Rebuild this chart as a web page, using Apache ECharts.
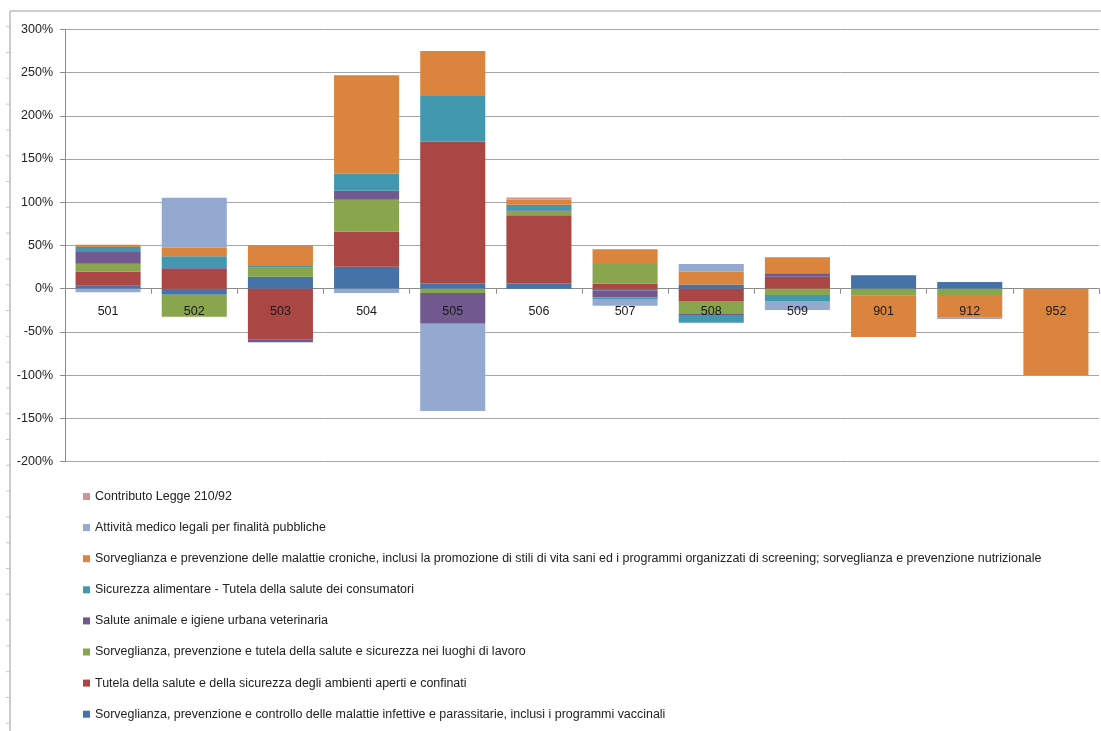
<!DOCTYPE html>
<html>
<head>
<meta charset="utf-8">
<script src="https://cdn.jsdelivr.net/npm/echarts@6/dist/echarts.min.js"></script>
<style>
html,body{margin:0;padding:0;background:#fff;}
#chart{width:1101px;height:731px;}
</style>
</head>
<body>
<div id="chart"></div>
<script>
const categories = ['501','502','503','504','505','506','507','508','509','901','912','952'];

const seriesNames = [
  'Sorveglianza, prevenzione e controllo delle malattie infettive e parassitarie, inclusi i programmi vaccinali',
  'Tutela della salute e della sicurezza degli ambienti aperti e confinati',
  'Sorveglianza, prevenzione e tutela della salute e sicurezza nei luoghi di lavoro',
  'Salute animale e igiene urbana veterinaria',
  'Sicurezza alimentare - Tutela della salute dei consumatori',
  'Sorveglianza e prevenzione delle malattie croniche, inclusi la promozione di stili di vita sani ed i programmi organizzati di screening; sorveglianza e prevenzione nutrizionale',
  'Attività medico legali per finalità pubbliche',
  'Contributo Legge 210/92'
];

const infettive   = [3.4, -7, 14, 25.5, 6, 6, -2, 5, 0, 15.5, 7.7, 0];
const ambienti    = [16.6, 23, -59, 40.5, 164, 79, 6.2, -14.2, 13.9, 0, 0, 0];
const lavoro      = [9, -25.5, 10.4, 37, -5, 4.3, 22.4, -15.1, -7.3, -8, -7.3, 0];
const animale     = [13.5, 1, -2.5, 10.3, -35.5, 1.5, -8, -1.1, 3.9, 0, 0, 0];
const alimentare  = [5.8, 13.5, 2, 19.7, 53, 6.2, -2, -8.9, -6.9, 0, 0, 0];
const croniche    = [2.6, 10, 24, 114, 52, 6.2, 17, 14.7, 18.5, -47.8, -26.2, -100];
const medicoLegali= [-4, 57.8, -0.8, -5, -101, 0, -7.7, 8.9, -10.4, 0, -1.5, 0];
const legge210    = [0, 0, 0, 0, 0, 2.3, 0, 0, 0, 0, 0, 0];

const seriesValues = [infettive, ambienti, lavoro, animale, alimentare, croniche, medicoLegali, legge210];
const colors = ['#4572A7','#AA4643','#89A54E','#71588F','#4198AF','#DB843D','#93A9CF','#D19392'];

const yTicks = {min: -200, max: 300, interval: 50};

const chart = echarts.init(document.getElementById('chart'), null, {renderer: 'canvas'});

const frameTicks = [];
for (let k = 1; k <= 28; k++) {
  const y = 0.9 + 25.8 * k;
  frameTicks.push({type: 'line', shape: {x1: 6, y1: y, x2: 10, y2: y}, style: {stroke: '#c8c8c8', lineWidth: 1}, silent: true});
}

const barSeries = seriesNames.map((name, i) => ({
  name: name,
  type: 'bar',
  stack: 'total',
  barCategoryGap: '24.5%',
  data: seriesValues[i],
  itemStyle: {color: colors[i]}
}));

const labelSeries = {
  name: 'categorie',
  type: 'scatter',
  symbolSize: 0,
  z: 20,
  silent: true,
  itemStyle: {opacity: 1, color: 'rgba(0,0,0,0)'},
  data: categories.map(c => [c, 0]),
  label: {
    show: true,
    position: 'bottom',
    distance: 16,
    formatter: p => p.value[0],
    color: '#1a1a1a',
    opacity: 1,
    fontSize: 12.5,
    fontFamily: 'Liberation Sans'
  }
};

const option = {
  animation: false,
  color: colors,
  grid: {left: 65, right: 2, top: 29.3, bottom: 269.3, containLabel: false},
  xAxis: {
    type: 'category',
    data: categories,
    axisLine: {onZero: true, lineStyle: {color: '#8c8c8c', width: 1}},
    axisTick: {show: true, length: 5, lineStyle: {color: '#8c8c8c'}},
    axisLabel: {show: false},
    splitLine: {show: false}
  },
  yAxis: {
    type: 'value',
    min: yTicks.min, max: yTicks.max, interval: yTicks.interval,
    axisLine: {show: true, lineStyle: {color: '#8c8c8c'}},
    axisTick: {show: true, length: 5, lineStyle: {color: '#8c8c8c'}},
    axisLabel: {formatter: '{value}%', margin: 12, color: '#222', fontSize: 12.5, fontFamily: 'Liberation Sans'},
    splitLine: {show: true, lineStyle: {color: '#a6a6a6', width: 1}}
  },
  legend: {
    orient: 'vertical',
    left: 83,
    top: 489.5,
    padding: 0,
    itemWidth: 7,
    itemHeight: 7,
    itemGap: 17.1,
    icon: 'rect',
    textStyle: {fontFamily: 'Liberation Sans', fontSize: 12.45, color: '#222', lineHeight: 14},
    data: seriesNames.slice().reverse()
  },
  graphic: [
    {type: 'line', shape: {x1: 10, y1: 11, x2: 1101, y2: 11}, style: {stroke: '#9a9a9a', lineWidth: 1}, silent: true},
    {type: 'line', shape: {x1: 10, y1: 11, x2: 10, y2: 731}, style: {stroke: '#9a9a9a', lineWidth: 1}, silent: true}
  ].concat(frameTicks),
  series: barSeries.concat([labelSeries])
};
chart.setOption(option);
</script>
</body>
</html>
